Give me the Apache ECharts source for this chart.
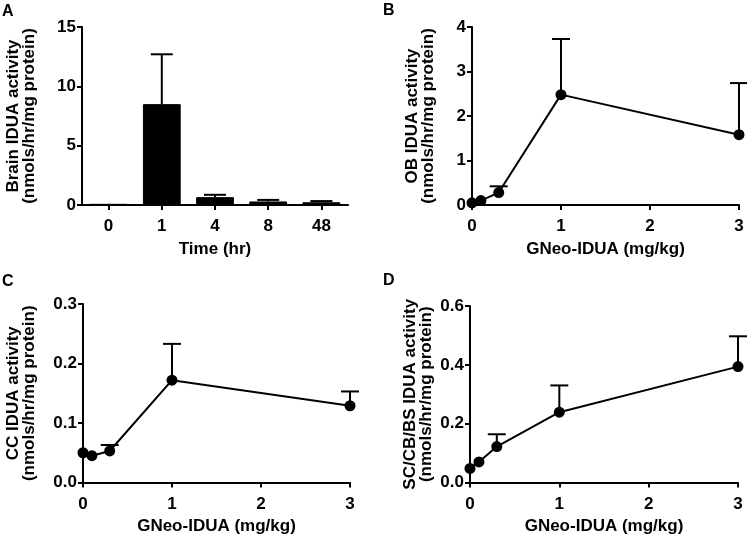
<!DOCTYPE html>
<html>
<head>
<meta charset="utf-8">
<script src="https://cdn.jsdelivr.net/npm/echarts@6/dist/echarts.min.js"></script>
<style>html,body{margin:0;padding:0;background:#fff}#c{width:747px;height:536px}</style>
</head>
<body>
<div id="c"></div>
<script>
// ---- data ----
var timeCats = ['0', '1', '4', '8', '48'];
var brainMean = [0.1, 8.5, 0.66, 0.3, 0.23];
var brainSem = [0, 4.2, 0.2, 0.13, 0.1];

var doses = [0, 0.1, 0.3, 1, 3];
var obMean = [0.05, 0.1, 0.28, 2.48, 1.58];
var obSem = [0, 0, 0.14, 1.25, 1.16];

var ccMean = [0.05, 0.045, 0.053, 0.172, 0.129];
var ccSem = [0, 0, 0.01, 0.061, 0.024];

var scMean = [0.048, 0.07, 0.122, 0.239, 0.394];
var scSem = [0, 0, 0.042, 0.091, 0.103];

var yTicksA = {min: 0, max: 15, interval: 5};
var yTicksB = {min: 0, max: 4, interval: 1};
var yTicksC = {min: 0, max: 0.3, interval: 0.1};
var yTicksD = {min: 0, max: 0.6, interval: 0.2};

// ---- chart ----
var FONT = '"Liberation Sans", Arial, sans-serif';
var chart = echarts.init(document.getElementById('c'));

function axisCommon() {
  return {
    axisLine: {show: true, onZero: false, lineStyle: {color: '#000', width: 2}},
    axisTick: {show: true, length: 5, lineStyle: {color: '#000', width: 2}},
    splitLine: {show: false},
    axisLabel: {color: '#000', fontFamily: FONT, fontWeight: 'bold', fontSize: 17},
    nameTextStyle: {color: '#000', fontFamily: FONT, fontWeight: 'bold', fontSize: 17, lineHeight: 16}
  };
}
function yAxis(idx, ticks, name, gap, dec) {
  var a = axisCommon();
  a.type = 'value'; a.gridIndex = idx;
  a.min = ticks.min; a.max = ticks.max; a.interval = ticks.interval;
  a.name = name; a.nameLocation = 'middle'; a.nameGap = gap;
  a.axisLabel.margin = 6;
  a.axisLabel.formatter = function (v) { return dec ? v.toFixed(dec) : String(Math.round(v)); };
  return a;
}
function xValAxis(idx) {
  var a = axisCommon();
  a.type = 'value'; a.gridIndex = idx; a.min = 0; a.max = 3; a.interval = 1;
  a.name = 'GNeo-IDUA (mg/kg)'; a.nameLocation = 'middle'; a.nameGap = 36;
  a.axisLabel.margin = 13;
  return a;
}
function errSeries(xi, yi, xs, means, sems, capW) {
  return {
    type: 'custom', xAxisIndex: xi, yAxisIndex: yi, z: 1, silent: true,
    data: xs.map(function (x, i) { return [x, means[i], sems[i]]; }),
    renderItem: function (params, api) {
      if (!(api.value(2) > 0)) return null;
      var p0 = api.coord([api.value(0), api.value(1)]);
      var p1 = api.coord([api.value(0), api.value(1) + api.value(2)]);
      var st = {stroke: '#000', lineWidth: 2};
      return {type: 'group', children: [
        {type: 'line', shape: {x1: p0[0], y1: p0[1], x2: p1[0], y2: p1[1]}, style: st},
        {type: 'line', shape: {x1: p1[0] - capW / 2, y1: p1[1], x2: p1[0] + capW / 2, y2: p1[1]}, style: st}
      ]};
    }
  };
}
function lineSeries(xi, yi, xs, means) {
  return {
    type: 'line', xAxisIndex: xi, yAxisIndex: yi, z: 3,
    data: xs.map(function (x, i) { return [x, means[i]]; }),
    symbol: 'circle', symbolSize: 11, showSymbol: true,
    itemStyle: {color: '#000'}, lineStyle: {color: '#000', width: 2}
  };
}

var xA = axisCommon();
xA.type = 'category'; xA.gridIndex = 0; xA.data = timeCats; xA.boundaryGap = true;
xA.axisTick.alignWithLabel = true;
xA.axisLabel.margin = 13;
xA.name = 'Time (hr)'; xA.nameLocation = 'middle'; xA.nameGap = 36;

var titleStyle = {color: '#000', fontFamily: FONT, fontWeight: 'bold', fontSize: 16};

var option = {
  animation: false,
  backgroundColor: '#fff',
  title: [
    {text: 'A', left: 2, top: 4, padding: 0, textStyle: titleStyle},
    {text: 'B', left: 383, top: 3, padding: 0, textStyle: titleStyle},
    {text: 'C', left: 2, top: 274, padding: 0, textStyle: titleStyle},
    {text: 'D', left: 383, top: 273, padding: 0, textStyle: titleStyle}
  ],
  grid: [
    {left: 82, top: 27, width: 266, height: 178},
    {left: 472, top: 27, width: 267, height: 178},
    {left: 83, top: 304, width: 267, height: 179},
    {left: 470, top: 306, width: 268, height: 178}
  ],
  xAxis: [xA, xValAxis(1), xValAxis(2), xValAxis(3)],
  yAxis: [
    yAxis(0, yTicksA, 'Brain IDUA activity\n(nmols/hr/mg protein)', 45, 0),
    yAxis(1, yTicksB, 'OB IDUA activity\n(nmols/hr/mg protein)', 36, 0),
    yAxis(2, yTicksC, 'CC IDUA activity\n(nmols/hr/mg protein)', 46, 1),
    yAxis(3, yTicksD, 'SC/CB/BS IDUA activity\n(nmols/hr/mg protein)', 36, 1)
  ],
  series: [
    {
      type: 'bar', xAxisIndex: 0, yAxisIndex: 0, z: 2,
      data: brainMean, barWidth: '71%',
      itemStyle: {color: '#000', borderColor: '#000', borderWidth: 1}
    },
    errSeries(0, 0, [0, 1, 2, 3, 4], brainMean, brainSem, 22),
    errSeries(1, 1, doses, obMean, obSem, 18),
    lineSeries(1, 1, doses, obMean),
    errSeries(2, 2, doses, ccMean, ccSem, 18),
    lineSeries(2, 2, doses, ccMean),
    errSeries(3, 3, doses, scMean, scSem, 18),
    lineSeries(3, 3, doses, scMean)
  ]
};
chart.setOption(option);
</script>
</body>
</html>
